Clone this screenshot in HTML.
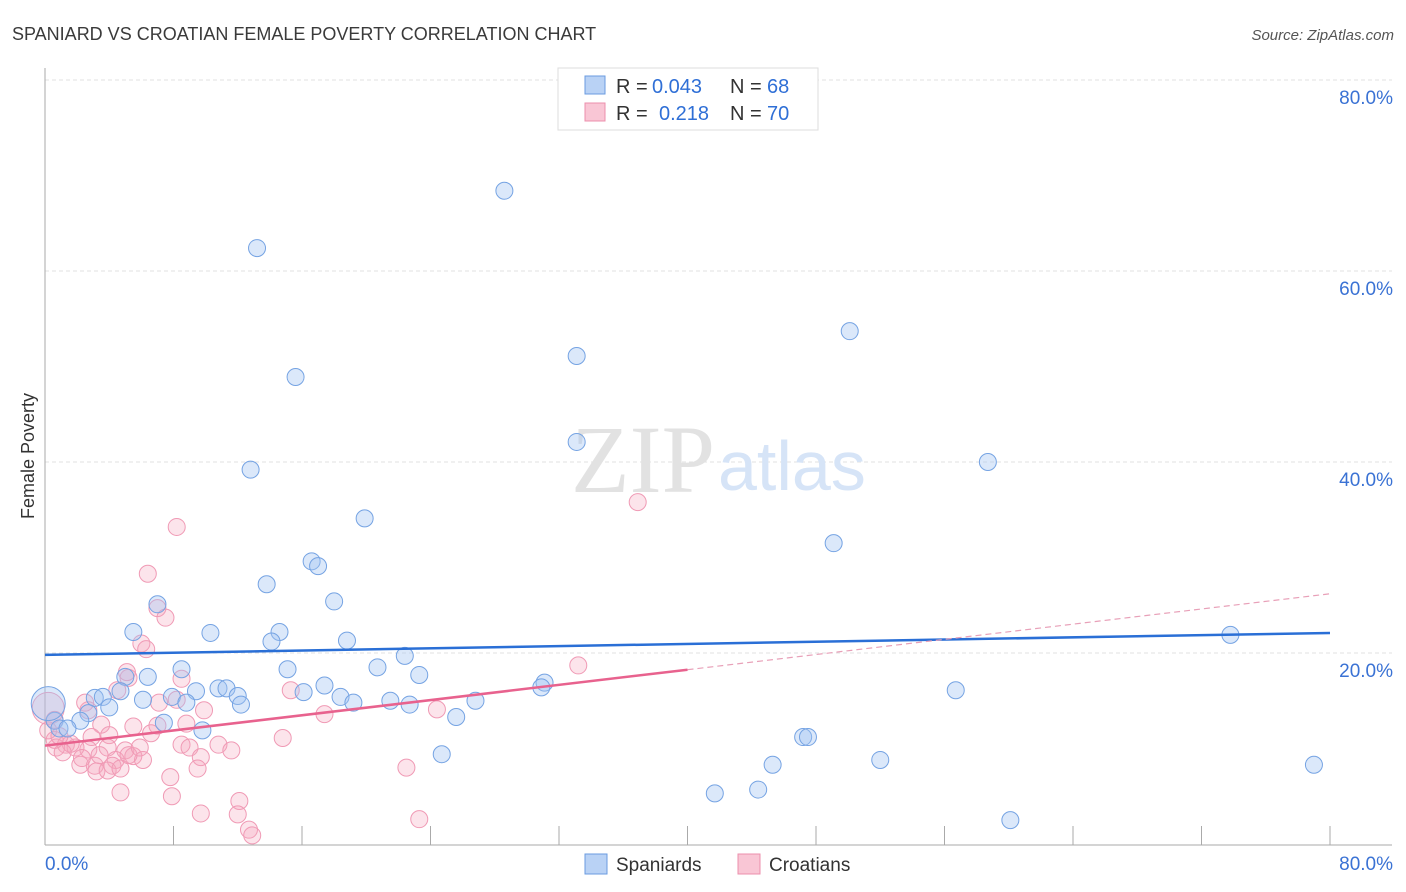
<!DOCTYPE html>
<html><head><meta charset="utf-8">
<style>
body{margin:0;background:#fff;font-family:"Liberation Sans",sans-serif;}
svg{display:block}
</style></head>
<body>
<svg id="chart" width="1406" height="892">
<text x="12" y="40" font-size="18" fill="#3a3a3a">SPANIARD VS CROATIAN FEMALE POVERTY CORRELATION CHART</text>
<text x="1394" y="40" font-size="15" fill="#555" font-style="italic" text-anchor="end">Source: ZipAtlas.com</text>
<text transform="translate(34,456) rotate(-90)" font-size="18" fill="#333" text-anchor="middle">Female Poverty</text>
<g id="grid"></g>
<text x="715" y="492" font-size="96" font-family="Liberation Serif,serif" fill="#e2e2e2" text-anchor="end">ZIP</text>
<text x="718" y="490" font-size="70" fill="#d6e4f7">atlas</text>
<g id="pts"></g>
<g id="lines"></g>
<g>
<rect x="558" y="68" width="260" height="62" fill="#fff" stroke="#ddd"/>
<rect x="585" y="76" width="20" height="18" fill="#b9d2f5" stroke="#6a9be0"/>
<text x="616" y="93" font-size="20" fill="#333">R =</text>
<text x="652" y="93" font-size="20" fill="#2f6fd6">0.043</text>
<text x="730" y="93" font-size="20" fill="#333">N =</text>
<text x="767" y="93" font-size="20" fill="#2f6fd6">68</text>
<rect x="585" y="103" width="20" height="18" fill="#f9c6d5" stroke="#ec8fac"/>
<text x="616" y="120" font-size="20" fill="#333">R =</text>
<text x="659" y="120" font-size="20" fill="#2f6fd6">0.218</text>
<text x="730" y="120" font-size="20" fill="#333">N =</text>
<text x="767" y="120" font-size="20" fill="#2f6fd6">70</text>
</g>
<g>
<rect x="585" y="854" width="22" height="20" fill="#b9d2f5" stroke="#6a9be0"/>
<text x="616" y="871" font-size="19" fill="#333">Spaniards</text>
<rect x="738" y="854" width="22" height="20" fill="#f9c6d5" stroke="#ec8fac"/>
<text x="769" y="871" font-size="19" fill="#333">Croatians</text>
</g>
</svg>
<script>
const xTicks=[0,8,16,24,32,40,48,56,64,72,80];
const yTicks=[20,40,60,80];
const yTickLabels=["20.0%","40.0%","60.0%","80.0%"];
const blueX=[28.6,13.2,15.6,33.1,50.1,33.1,12.8,58.7,19.9,49.1,16.6,17.0,13.8,18.0,7.0,5.5,10.3,14.6,14.1,18.8,73.8,22.4,8.5,15.1,20.7,23.3,6.4,5.0,4.7,3.1,3.6,6.1,7.9,9.4,10.8,11.3,17.4,16.1,18.4,12.0,12.2,19.2,21.5,22.7,26.8,31.1,30.9,8.8,4.0,2.7,25.6,2.2,0.6,0.9,1.4,9.8,7.4,24.7,47.2,47.5,45.3,52.0,56.7,79.0,41.7,44.4,60.1,0.2];
const blueY=[68.4,62.4,48.9,51.1,53.7,42.1,39.2,40.0,34.1,31.5,29.6,29.1,27.2,25.4,25.1,22.2,22.1,22.2,21.2,21.3,21.9,19.7,18.3,18.3,18.5,17.7,17.5,17.5,16.0,15.3,15.4,15.1,15.4,16.0,16.3,16.3,16.6,15.9,15.4,15.5,14.6,14.8,15.0,14.6,15.0,16.9,16.4,14.8,14.3,13.7,13.3,12.9,12.9,12.1,12.1,11.9,12.7,9.4,11.2,11.2,8.3,8.8,16.1,8.3,5.3,5.7,2.5,14.7];
const pinkX=[36.9,8.2,6.4,7.0,7.5,6.0,6.3,33.2,5.2,8.5,5.1,15.3,4.5,7.1,8.2,9.9,24.4,17.4,2.7,2.5,3.5,5.5,4.0,8.8,7.0,2.9,14.8,6.6,8.5,9.0,10.8,11.6,3.9,5.0,5.5,4.4,2.7,1.3,1.9,1.6,0.7,1.1,0.6,0.2,2.2,3.1,3.2,4.2,3.9,4.7,6.1,5.2,9.7,7.8,9.5,22.5,4.7,7.9,12.1,9.7,12.0,12.7,12.9,23.3,0.2,0.6,0.9,3.4,2.3,5.9];
const pinkY=[35.8,33.2,28.3,24.7,23.7,21.0,20.4,18.7,17.4,17.3,18.0,16.1,16.1,14.8,15.1,14.0,14.1,13.6,14.0,14.8,12.5,12.3,11.4,12.6,12.4,11.2,11.1,11.6,10.4,10.1,10.4,9.8,10.1,9.8,9.2,8.8,9.9,10.4,10.1,10.5,10.1,9.6,10.9,11.9,8.3,8.2,7.6,8.2,7.7,7.9,8.8,9.3,9.1,7.0,7.9,8.0,5.4,5.0,4.5,3.2,3.1,1.5,0.9,2.6,14.2,13.0,11.3,9.3,9.0,10.1];
const blueTrend=[19.8,22.1];
const pinkTrend=[10.3,26.2];
const pinkSolidEnd=40;
const X=v=>45+v*(1285/80), Y=v=>844-v*(764/80);
const NS="http://www.w3.org/2000/svg";
function mk(tag,attrs,parent){const e=document.createElementNS(NS,tag);for(const k in attrs)e.setAttribute(k,attrs[k]);parent.appendChild(e);return e;}
const grid=document.getElementById('grid');
yTicks.forEach((t,i)=>{
 const l=mk('line',{x1:45,x2:1392,y1:Y(t),y2:Y(t),stroke:'#e2e2e2','stroke-dasharray':'4,3'},grid);
 
 
 const tx=mk('text',{x:1393,y:Y(t)+24,'font-size':19,fill:'#3a72d4','text-anchor':'end'},grid);
 tx.textContent=yTickLabels[i];
 
 
});
const ax=mk('line',{x1:45,x2:1392,y1:845,y2:845,stroke:'#aaa'},grid);


const ay=mk('line',{x1:45,x2:45,y1:68,y2:845,stroke:'#aaa'},grid);


xTicks.forEach(t=>{if(t===0)return;
 const l=mk('line',{x1:X(t),x2:X(t),y1:826,y2:845,stroke:'#aaa'},grid);
 
 });
[[0,'start','0.0%'],[80,'end','80.0%']].forEach(([v,a,s])=>{
 const tx=mk('text',{x:v===0?45:1393,y:870,'font-size':19,fill:'#3a72d4','text-anchor':a},grid);
 tx.textContent=s;
 
 });
const pts=document.getElementById('pts');
pinkX.forEach((x,i)=>{
 const c=mk('circle',{cx:X(x),cy:Y(pinkY[i]),r:i===64?16:8.5,fill:'rgba(245,165,190,0.3)',stroke:'#f09ab5','stroke-width':1},pts);
 
 });
blueX.forEach((x,i)=>{
 const c=mk('circle',{cx:X(x),cy:Y(blueY[i]),r:i===67?17:8.5,fill:'rgba(160,195,242,0.38)',stroke:'#75a3e3','stroke-width':1},pts);
 
 });
const lines=document.getElementById('lines');
const bl=mk('line',{x1:X(0),y1:Y(blueTrend[0]),x2:X(80),y2:Y(blueTrend[1]),stroke:'#2a6fd6','stroke-width':2.5},lines);


const pm=pinkTrend[0]+(pinkTrend[1]-pinkTrend[0])*pinkSolidEnd/80;
const pl=mk('line',{x1:X(0),y1:Y(pinkTrend[0]),x2:X(pinkSolidEnd),y2:Y(pm),stroke:'#e8628e','stroke-width':2.5},lines);


const pd=mk('line',{x1:X(pinkSolidEnd),y1:Y(pm),x2:X(80),y2:Y(pinkTrend[1]),stroke:'#e8a0b8','stroke-width':1.2,'stroke-dasharray':'6,4'},lines);


</script>
</body></html>
